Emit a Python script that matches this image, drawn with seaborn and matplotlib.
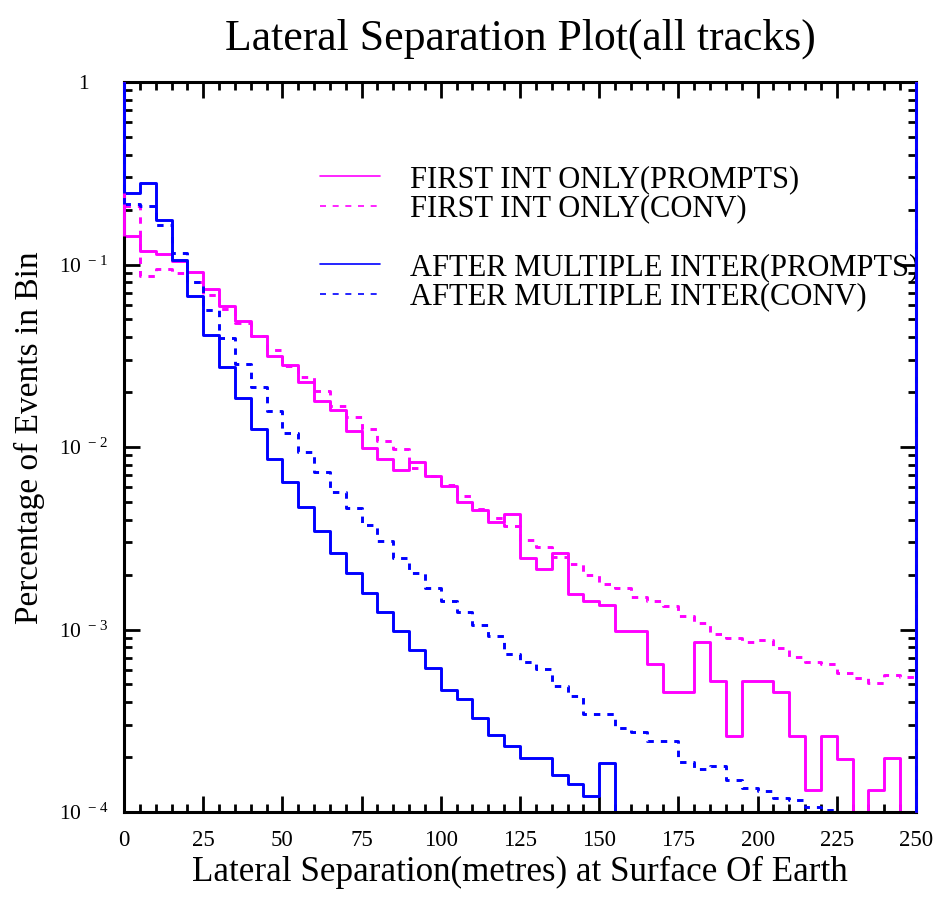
import numpy as np
import pandas as pd
import matplotlib
matplotlib.use("Agg")
import matplotlib.pyplot as plt
import seaborn as sns
from matplotlib.lines import Line2D
from matplotlib.ticker import FixedLocator, LogLocator, FuncFormatter, NullFormatter, MultipleLocator

# 5 m bins from 0 to 250 m
bin_width = 5
bin_range = (0, 250)
bin_edges = np.arange(bin_range[0], bin_range[1] + bin_width, bin_width)

# fraction of events per bin, first interaction only, prompt component
first_prompts = [
    0.144, 0.118, 0.114, 0.105, 0.0905, 0.0734, 0.0594, 0.0488, 0.0404, 0.0314,
    0.0283, 0.0226, 0.0178, 0.0160, 0.0122, 0.0099, 0.0086, 0.0075, 0.0083, 0.0069,
    0.0061, 0.0050, 0.0045, 0.0039, 0.0043, 0.00245, 0.00215, 0.00261, 0.00156, 0.00143,
    0.00136, 0.00098, 0.00098, 0.00065, 0.000456, 0.000456, 0.000849, 0.000523, 0.00026, 0.000523,
    0.000523, 0.000456, 0.00026, 0.000132, 0.00026, 0.000195, 0.0, 0.000132, 0.000197, 0.0,
]
# first interaction only, conventional component
first_conv = [
    0.208, 0.086, 0.095, 0.0898, 0.080, 0.068, 0.057, 0.048, 0.0407, 0.0342,
    0.0277, 0.0242, 0.0202, 0.0167, 0.0146, 0.0125, 0.0108, 0.0098, 0.0077, 0.0069,
    0.0062, 0.0054, 0.0046, 0.0041, 0.0037, 0.0031, 0.00283, 0.00251, 0.00228, 0.00199,
    0.00178, 0.00169, 0.00151, 0.00144, 0.00135, 0.00118, 0.00108, 0.00095, 0.000896, 0.000849,
    0.000873, 0.000787, 0.000708, 0.00066, 0.000645, 0.000581, 0.000545, 0.000512, 0.000564, 0.00055,
]
# after multiple interactions, prompt component
multi_prompts = [
    0.246, 0.279, 0.176, 0.106, 0.0669, 0.0413, 0.0275, 0.0186, 0.0126, 0.0086,
    0.0064, 0.0047, 0.00346, 0.00261, 0.00205, 0.00159, 0.00124, 0.00098, 0.00077, 0.000614,
    0.000465, 0.000416, 0.000326, 0.000264, 0.000229, 0.000197, 0.000197, 0.00016, 0.000142, 0.000123,
    0.000185, 0.0, 0.0, 0.0, 0.0, 0.0, 0.0, 0.0, 0.0, 0.0,
    0.0, 0.0, 0.0, 0.0, 0.0, 0.0, 0.0, 0.0, 0.0, 0.0,
]
# after multiple interactions, conventional component
multi_conv = [
    0.214, 0.21, 0.164, 0.116, 0.080, 0.056, 0.0396, 0.0286, 0.0213, 0.0158,
    0.0120, 0.0094, 0.0073, 0.0057, 0.00465, 0.00372, 0.00305, 0.00248, 0.00205, 0.00168,
    0.00143, 0.00125, 0.00106, 0.00092, 0.00073, 0.000665, 0.00061, 0.00049, 0.000433, 0.000344,
    0.000344, 0.00029, 0.000273, 0.000244, 0.000245, 0.000187, 0.000172, 0.000179, 0.00015, 0.000135,
    0.00013, 0.00012, 0.000117, 0.000106, 0.000103, 0.0001, 0.0, 0.0, 0.0, 0.0,
]

series_labels = [
    "FIRST INT ONLY(PROMPTS)",
    "FIRST INT ONLY(CONV)",
    "AFTER MULTIPLE INTER(PROMPTS)",
    "AFTER MULTIPLE INTER(CONV)",
]
x_ticks = [0, 25, 50, 75, 100, 125, 150, 175, 200, 225, 250]
y_ticks = [1e-4, 1e-3, 1e-2, 1e-1, 1]
y_lim = (1e-4, 1.0)

MAGENTA = "#ff00ff"
BLUE = "#0000ff"

sns.set_style("ticks")
plt.rcParams["font.family"] = ["Liberation Serif", "DejaVu Serif"]
plt.rcParams["mathtext.fontset"] = "custom"
plt.rcParams["mathtext.rm"] = "Liberation Serif"
for key in ["text.color", "axes.labelcolor", "xtick.color", "ytick.color", "axes.edgecolor"]:
    plt.rcParams[key] = "black"

W, H = 938, 899
fig = plt.figure(figsize=(W / 100, H / 100), dpi=100)
ax_left, ax_right, ax_top, ax_bottom = 124, 916, 82, 812
ax = fig.add_axes([ax_left / W, 1 - ax_bottom / H, (ax_right - ax_left) / W, (ax_bottom - ax_top) / H])

centers = (bin_edges[:-1] + bin_edges[1:]) / 2
df = pd.DataFrame({
    "sep": np.tile(centers, 4),
    "frac": np.concatenate([first_conv, first_prompts, multi_conv, multi_prompts]),
    "series": np.repeat(["fc", "fp", "mc", "mp"], len(centers)),
})

LW = 2.1
styles = {
    "fc": dict(color=MAGENTA, linestyle=(0, (2.2, 2.4))),
    "fp": dict(color=MAGENTA, linestyle="-"),
    "mc": dict(color=BLUE, linestyle=(0, (2.2, 2.4))),
    "mp": dict(color=BLUE, linestyle="-"),
}
for i, key in enumerate(["fc", "fp", "mc", "mp"]):
    sub = df[df["series"] == key]
    sns.histplot(data=sub, x="sep", weights="frac", binwidth=bin_width, binrange=bin_range,
                 element="step", fill=False, linewidth=LW, ax=ax, **styles[key])
    vals = np.clip(sub["frac"].to_numpy(), y_lim[0], None)
    # outer edges of the outline run up to the top of the frame, over the frame line
    ax.vlines([bin_edges[0], bin_edges[-1]], [vals[0], vals[-1]], y_lim[1],
              colors=styles[key]["color"], linestyles=styles[key]["linestyle"], linewidth=LW,
              zorder=3 + i, clip_on=False)

ax.set_yscale("log")
ax.set_xlim(bin_edges[0], bin_edges[-1])
ax.set_ylim(*y_lim)

# ticks on every side, pointing inward
ax.xaxis.set_major_locator(FixedLocator(x_ticks))
ax.xaxis.set_minor_locator(MultipleLocator(bin_width))
ax.yaxis.set_major_locator(FixedLocator(y_ticks))
ax.yaxis.set_minor_locator(LogLocator(base=10, subs=np.arange(2, 10)))
ax.yaxis.set_minor_formatter(NullFormatter())


def y_fmt(v, _pos):
    if abs(v - 1) < 1e-9:
        return "1"
    return r"$\mathregular{10^{\;%d}}$" % int(round(np.log10(v)))


ax.yaxis.set_major_formatter(FuncFormatter(y_fmt))
ax.tick_params(which="both", direction="in", top=True, right=True, color="black", width=2.0)
ax.tick_params(which="major", length=11.5)
ax.tick_params(which="minor", length=5.8)
ax.tick_params(axis="x", which="major", labelsize=16.5, pad=13)
ax.tick_params(axis="y", which="major", labelsize=15.5, pad=29)
for s in ax.spines.values():
    s.set_linewidth(2.2)
    s.set_color("black")
    s.set_visible(True)

ax.set_xlabel("Lateral Separation(metres) at Surface Of Earth", fontsize=25.2, va="baseline")
ax.xaxis.set_label_coords(0.5, (ax_bottom - 880.7) / (ax_bottom - ax_top))
ax.set_ylabel("Percentage of Events in Bin", fontsize=24, va="center")
ax.yaxis.set_label_coords((29 - ax_left) / (ax_right - ax_left), (ax_bottom - 438) / (ax_bottom - ax_top))

fig.text((ax_left + ax_right) / 2 / W, 1 - 50 / H, "Lateral Separation Plot(all tracks)",
         fontsize=31.5, ha="center", va="baseline")

# legend with an empty row between the two groups
LEG_LW = 1.2
handles = [
    Line2D([], [], color=MAGENTA, lw=LEG_LW),
    Line2D([], [], color=MAGENTA, lw=LEG_LW, linestyle=(0, (3.6, 4.0))),
    Line2D([], [], alpha=0),
    Line2D([], [], color=BLUE, lw=LEG_LW),
    Line2D([], [], color=BLUE, lw=LEG_LW, linestyle=(0, (3.6, 4.0))),
]
labels = [series_labels[0], series_labels[1], " ", series_labels[2], series_labels[3]]
ax.legend(handles, labels, loc="upper left",
          bbox_to_anchor=((320 - ax_left) / (ax_right - ax_left), (ax_bottom - 165) / (ax_bottom - ax_top)),
          frameon=False, fontsize=22, handlelength=1.96, handletextpad=1.0,
          labelspacing=0.01, borderpad=0, borderaxespad=0)

fig.canvas.draw()
for lbl in ax.get_yticklabels():
    lbl.set_horizontalalignment("center")

fig.savefig("out.png", dpi=100, facecolor="white")
